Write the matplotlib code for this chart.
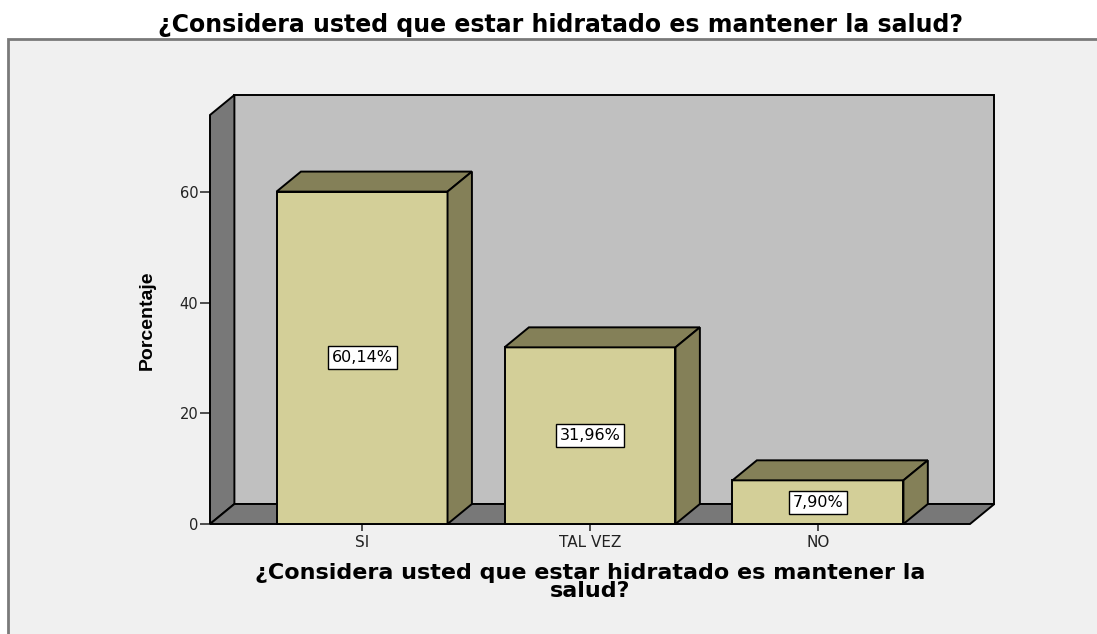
import numpy as np
import matplotlib.pyplot as plt
from matplotlib.patches import Polygon, Rectangle

# data
categories = ['SI', 'TAL VEZ', 'NO']
percentages = [60.14, 31.96, 7.90]
labels = ['60,14%', '31,96%', '7,90%']
yticks = [0, 20, 40, 60]

title = '¿Considera usted que estar hidratado es mantener la salud?'
xlab = '¿Considera usted que estar hidratado es mantener la\nsalud?'

# 3D look
front_col = '#d3cf98'
shade_col = '#848058'
wall_col = '#c0c0c0'
side_col = '#787878'
bw = 0.75
dx, dy = 0.107, 3.62
x0, x1 = -0.667, 2.667
ymax = 74.0

fig = plt.figure(figsize=(10.97, 6.34), dpi=100)
fig.patch.set_facecolor('white')

# light gray chart panel
W, H = 1097.0, 634.0
fig.patches.append(Rectangle((8 / W, -0.05), 1.1, 1 - 39 / H + 0.05, transform=fig.transFigure,
                             facecolor='#f0f0f0', edgecolor='#7a7a7a', linewidth=2.0, zorder=-5))

ax = fig.add_axes([210 / W, 1 - 524 / H, 760 / W, 409 / H])
ax.set_zorder(2)
ax.set_facecolor('none')
ax.set_xlim(x0, x1)
ax.set_ylim(0, ymax)
for s in ax.spines.values():
    s.set_visible(False)

def poly(pts, fc, z):
    p = Polygon(pts, closed=True, facecolor=fc, edgecolor='black', linewidth=1.4,
                joinstyle='miter', clip_on=False, zorder=z)
    ax.add_patch(p)

# back wall, left wall, floor
poly([(x0 + dx, dy), (x1 + dx, dy), (x1 + dx, ymax + dy), (x0 + dx, ymax + dy)], wall_col, 1)
poly([(x0, 0), (x0 + dx, dy), (x0 + dx, ymax + dy), (x0, ymax)], side_col, 2)
poly([(x0, 0), (x1, 0), (x1 + dx, dy), (x0 + dx, dy)], side_col, 2)

# bars
for i, v in enumerate(percentages):
    l, r = i - bw / 2, i + bw / 2
    poly([(l, 0), (r, 0), (r, v), (l, v)], front_col, 3)
    poly([(l, v), (r, v), (r + dx, v + dy), (l + dx, v + dy)], shade_col, 3)
    poly([(r, 0), (r + dx, dy), (r + dx, v + dy), (r, v)], shade_col, 3)
    ax.text(i, v / 2, labels[i], ha='center', va='center', fontsize=11.5, zorder=5,
            bbox=dict(boxstyle='square,pad=0.25', facecolor='white', edgecolor='black', linewidth=1))

ax.set_xticks(range(len(categories)))
ax.set_xticklabels(categories, fontsize=11, color='#222222')
ax.set_yticks(yticks)
ax.set_yticklabels([str(t) for t in yticks], fontsize=10.5, color='#222222')
ax.tick_params(axis='y', length=7.5, width=1.3, color='#404040', pad=1)
ax.tick_params(axis='x', length=5, width=1.3, color='#404040', pad=3)

ax.set_xlabel(xlab, fontsize=16, fontweight='bold', linespacing=0.88, labelpad=9)
fig.text(147 / W, 1 - 320 / H, 'Porcentaje', rotation=90, ha='center', va='center',
         fontsize=14, fontweight='bold', family='Liberation Sans')
fig.text(561 / W, 1 - 25 / H, title, ha='center', va='center', fontsize=17, fontweight='bold')

fig.savefig('out.png', dpi=100)
